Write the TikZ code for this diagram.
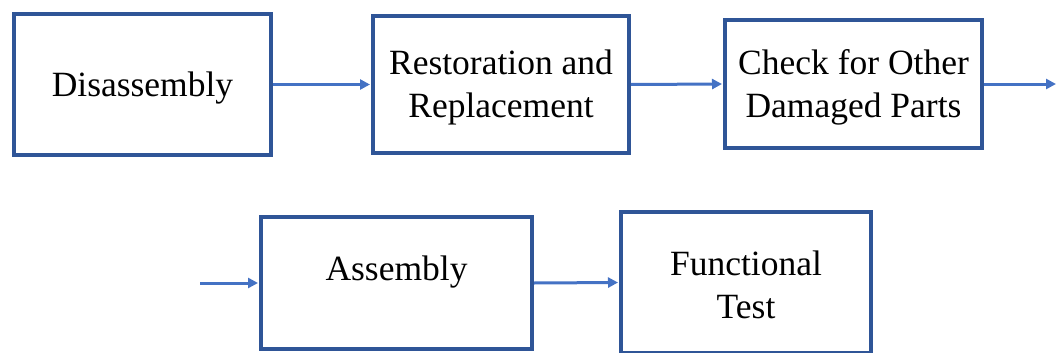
\documentclass[tikz,border=0pt]{standalone}
\usepackage{fontspec}
\setmainfont{Liberation Serif}
\usetikzlibrary{arrows.meta}
\definecolor{boxblue}{HTML}{2F5597}
\definecolor{arrblue}{HTML}{4472C4}
\tikzset{
  stepbox/.style={draw=boxblue, line width=4pt, fill=white, inner sep=0pt},
  steptext/.style={font=\fontsize{35.5}{43}\selectfont, text=black, align=center, inner sep=0pt},
  flow/.style={draw=arrblue, line width=3pt, -{Triangle[length=10pt,width=10pt]}, shorten >=1pt}
}
\begin{document}
\begin{tikzpicture}[x=1pt,y=-1pt]
\useasboundingbox (0,0) rectangle (1057,353);
\node[stepbox, minimum width=257pt, minimum height=141pt,
  label={[steptext, yshift=-4pt]center:Disassembly}] (b1) at (142.5,84.5) {};
\node[stepbox, minimum width=256pt, minimum height=137pt,
  label={[steptext, yshift=-3pt]center:Restoration and\\Replacement}] (b2) at (501,84.5) {};
\node[stepbox, minimum width=257pt, minimum height=128pt,
  label={[steptext, yshift=-3pt]center:Check for Other\\Damaged Parts}] (b3) at (853.5,84) {};
\node[stepbox, minimum width=271pt, minimum height=132pt,
  label={[steptext, yshift=11pt]center:Assembly}] (b4) at (396.5,283) {};
\node[stepbox, minimum width=250pt, minimum height=141pt,
  label={[steptext, yshift=-2pt]center:Functional\\Test}] (b5) at (746,282.5) {};
\coordinate (out) at (1057,84);
\coordinate (in) at (200,283);
\draw[flow] (b1.east) -- (b2.west);
\draw[flow] (b2.east) -- (b3.west);
\draw[flow] (b3.east) -- (out);
\draw[flow] (in) -- (b4.west);
\draw[flow] (b4.east) -- (b5.west);
\end{tikzpicture}
\end{document}
